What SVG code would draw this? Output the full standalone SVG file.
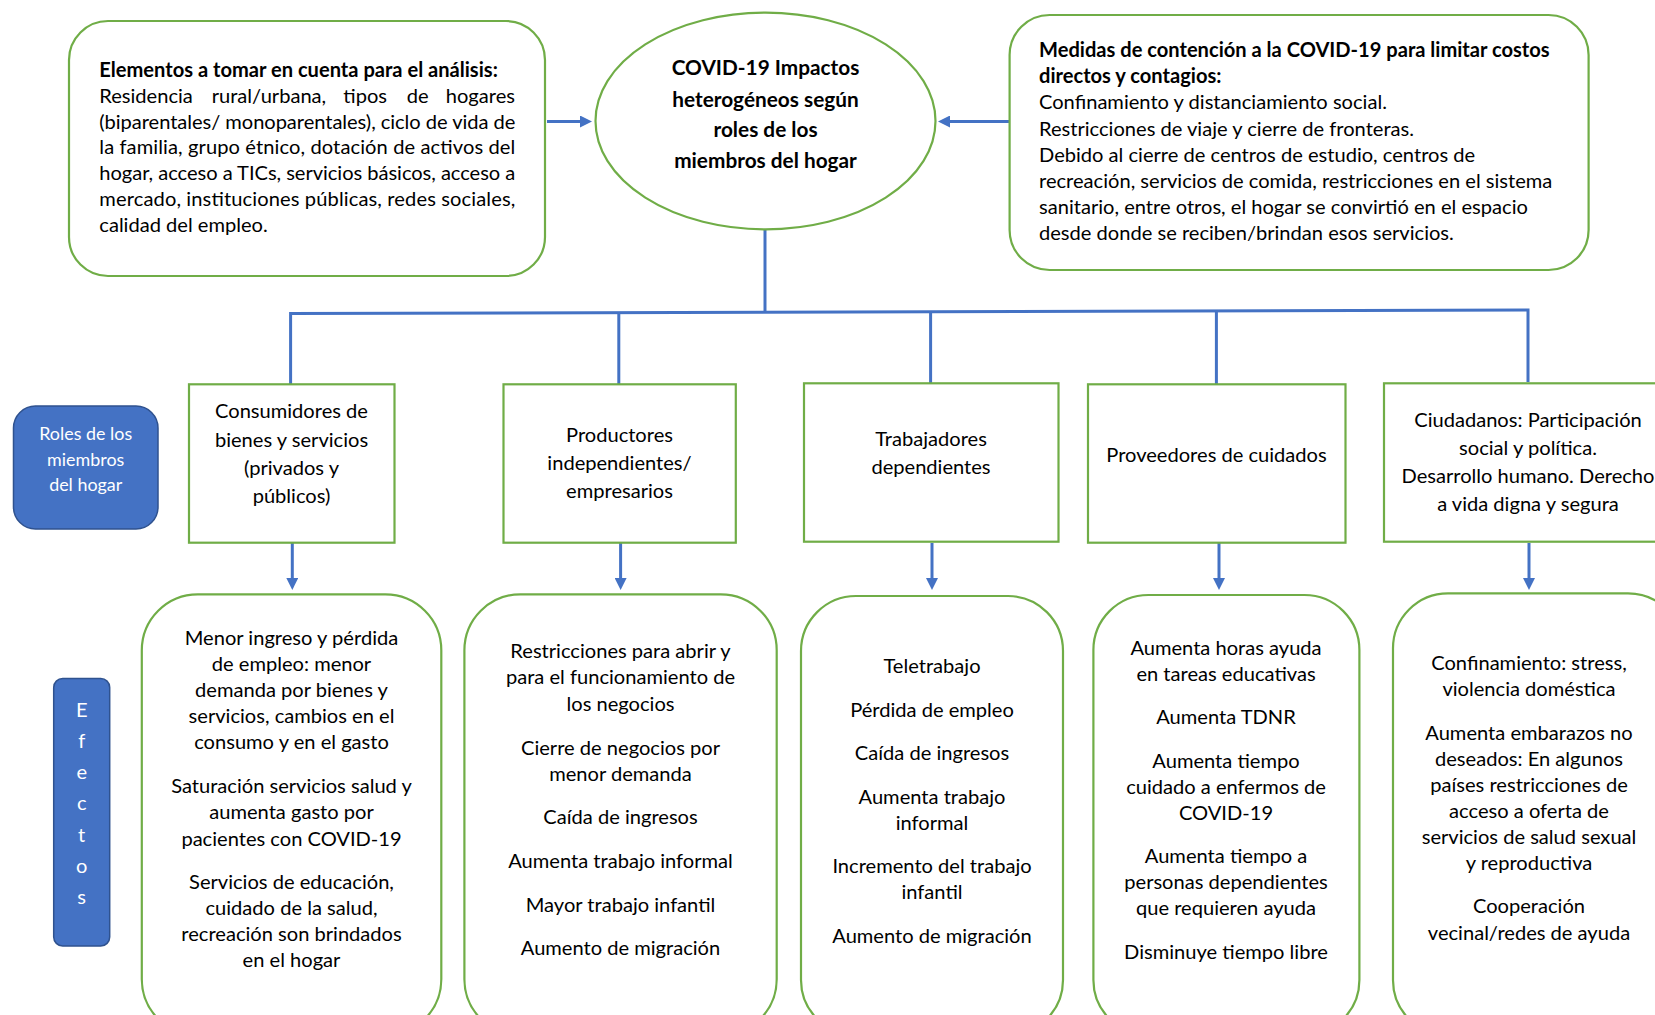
<svg xmlns="http://www.w3.org/2000/svg" width="1655" height="1015" viewBox="0 0 1655 1015">
<style>
.t{font-family:Lato,"Liberation Sans",sans-serif;font-size:20.1px;fill:#000}
.b{font-weight:bold}
.c{text-anchor:middle}
.e{text-anchor:end}
.w{fill:#fff}
.ti{font-size:20.8px}
.r{font-size:17.9px}
.box{fill:#fff;stroke:#70AD47;stroke-width:2.2}
.blue{fill:#4472C4;stroke:#2F528F;stroke-width:1.5}
.con{fill:none;stroke:#4472C4;stroke-width:3}
</style>
<defs>
<marker id="ah" viewBox="0 0 10 10" refX="5" refY="5" markerWidth="12" markerHeight="12" markerUnits="userSpaceOnUse" orient="auto">
<path d="M0,0 L10,5 L0,10 z" fill="#4472C4"/>
</marker>
</defs>
<rect width="1655" height="1015" fill="#fff"/>

<g id="connectors">
<line class="con" x1="547" y1="121.5" x2="586" y2="121.5" marker-end="url(#ah)"/>
<line class="con" x1="1013" y1="121.5" x2="944" y2="121.5" marker-end="url(#ah)"/>
<line class="con" x1="765" y1="230" x2="765" y2="312"/>
<polyline class="con" points="290.6,384 290.6,313.5 1528,310 1528,382"/>
<line class="con" x1="618.8" y1="313" x2="618.8" y2="384"/>
<line class="con" x1="930.6" y1="312" x2="930.6" y2="383"/>
<line class="con" x1="1216.4" y1="311" x2="1216.4" y2="384"/>
<line class="con" x1="292.3" y1="543" x2="292.3" y2="584" marker-end="url(#ah)"/>
<line class="con" x1="620.6" y1="543" x2="620.6" y2="584" marker-end="url(#ah)"/>
<line class="con" x1="932" y1="543" x2="932" y2="584" marker-end="url(#ah)"/>
<line class="con" x1="1219" y1="543" x2="1219" y2="584" marker-end="url(#ah)"/>
<line class="con" x1="1529" y1="543" x2="1529" y2="584" marker-end="url(#ah)"/>
</g>

<g id="elementos">
<rect class="box" x="69" y="21" width="476" height="255" rx="39"/>
<text class="t b" x="99.3" y="77">Elementos a tomar en cuenta para el análisis:</text>
<text class="t" y="102.8"><tspan x="99.3">Residencia</tspan><tspan x="211.7">rural/urbana,</tspan><tspan x="343.3">tipos</tspan><tspan x="406.7">de</tspan></text>
<text class="t e" x="515" y="102.8">hogares</text>
<text class="t" x="99.3" y="128.6" textLength="416" lengthAdjust="spacing">(biparentales/ monoparentales), ciclo de vida de</text>
<text class="t" x="99.3" y="154.4" textLength="416" lengthAdjust="spacing">la familia, grupo étnico, dotación de activos del</text>
<text class="t" x="99.3" y="180.2" textLength="416" lengthAdjust="spacing">hogar, acceso a TICs, servicios básicos, acceso a</text>
<text class="t" x="99.3" y="206" textLength="416" lengthAdjust="spacing">mercado, instituciones públicas, redes sociales,</text>
<text class="t" x="99.3" y="231.8">calidad del empleo.</text>
</g>

<g id="covid">
<ellipse class="box" cx="765.5" cy="121" rx="170" ry="108.3"/>
<text class="t b c ti" x="765.5" y="75">COVID-19 Impactos</text>
<text class="t b c ti" x="765.5" y="106.5">heterogéneos según</text>
<text class="t b c ti" x="765.5" y="137.3">roles de los</text>
<text class="t b c ti" x="765.5" y="168">miembros del hogar</text>
</g>

<g id="medidas">
<rect class="box" x="1009.6" y="15" width="579" height="255" rx="40"/>
<text class="t b" x="1039" y="57">Medidas de contención a la COVID-19 para limitar costos</text>
<text class="t b" x="1039" y="83.2">directos y contagios:</text>
<text class="t" x="1039" y="109.4">Confinamiento y distanciamiento social.</text>
<text class="t" x="1039" y="135.6">Restricciones de viaje y cierre de fronteras.</text>
<text class="t" x="1039" y="161.8">Debido al cierre de centros de estudio, centros de</text>
<text class="t" x="1039" y="188">recreación, servicios de comida, restricciones en el sistema</text>
<text class="t" x="1039" y="214.2">sanitario, entre otros, el hogar se convirtió en el espacio</text>
<text class="t" x="1039" y="240.4">desde donde se reciben/brindan esos servicios.</text>
</g>

<g id="roles-label">
<rect class="blue" x="13.5" y="406" width="144.5" height="123" rx="22"/>
<text class="t c w r" x="85.7" y="440">Roles de los</text>
<text class="t c w r" x="85.7" y="466">miembros</text>
<text class="t c w r" x="85.7" y="491">del hogar</text>
</g>

<g id="efectos-label">
<rect class="blue" x="53.7" y="678.5" width="56" height="267.5" rx="9"/>
<text class="t c w" x="81.7" y="717">E</text>
<text class="t c w" x="81.7" y="748">f</text>
<text class="t c w" x="81.7" y="779">e</text>
<text class="t c w" x="81.7" y="810">c</text>
<text class="t c w" x="81.7" y="841.5">t</text>
<text class="t c w" x="81.7" y="872.5">o</text>
<text class="t c w" x="81.7" y="903.5">s</text>
</g>

<g id="rol-consumidores">
<rect class="box" x="189" y="384.3" width="205.5" height="158.4"/>
<text class="t c" x="291.5" y="418.3">Consumidores de</text>
<text class="t c" x="291.5" y="446.7">bienes y servicios</text>
<text class="t c" x="291.5" y="475">(privados y</text>
<text class="t c" x="291.5" y="503.3">públicos)</text>
</g>

<g id="rol-productores">
<rect class="box" x="503.5" y="384.3" width="232.3" height="158.4"/>
<text class="t c" x="619.5" y="441.7">Productores</text>
<text class="t c" x="619.5" y="470">independientes/</text>
<text class="t c" x="619.5" y="498.3">empresarios</text>
</g>

<g id="rol-trabajadores">
<rect class="box" x="804" y="383.3" width="254.5" height="158.4"/>
<text class="t c" x="931" y="445.7">Trabajadores</text>
<text class="t c" x="931" y="474.3">dependientes</text>
</g>

<g id="rol-proveedores">
<rect class="box" x="1088" y="384.3" width="257.5" height="158.4"/>
<text class="t c" x="1216.5" y="461.7">Proveedores de cuidados</text>
</g>

<g id="rol-ciudadanos">
<rect class="box" x="1384" y="383.3" width="288" height="158.4"/>
<text class="t c" x="1528" y="426.7">Ciudadanos: Participación</text>
<text class="t c" x="1528" y="455">social y política.</text>
<text class="t c" x="1528" y="483.3">Desarrollo humano. Derecho</text>
<text class="t c" x="1528" y="511">a vida digna y segura</text>
</g>

<g id="efecto-consumidores">
<rect class="box" x="141.8" y="594.3" width="299.5" height="441" rx="56"/>
<text class="t c" x="291.5" y="645">Menor ingreso y pérdida</text>
<text class="t c" x="291.5" y="671">de empleo: menor</text>
<text class="t c" x="291.5" y="697">demanda por bienes y</text>
<text class="t c" x="291.5" y="723">servicios, cambios en el</text>
<text class="t c" x="291.5" y="749">consumo y en el gasto</text>
<text class="t c" x="291.5" y="793">Saturación servicios salud y</text>
<text class="t c" x="291.5" y="819">aumenta gasto por</text>
<text class="t c" x="291.5" y="845.5">pacientes con COVID-19</text>
<text class="t c" x="291.5" y="888.5">Servicios de educación,</text>
<text class="t c" x="291.5" y="914.5">cuidado de la salud,</text>
<text class="t c" x="291.5" y="940.5">recreación son brindados</text>
<text class="t c" x="291.5" y="966.5">en el hogar</text>
</g>

<g id="efecto-productores">
<rect class="box" x="464.4" y="594.3" width="312.3" height="441" rx="56"/>
<text class="t c" x="620.5" y="658">Restricciones para abrir y</text>
<text class="t c" x="620.5" y="684.3">para el funcionamiento de</text>
<text class="t c" x="620.5" y="710.6">los negocios</text>
<text class="t c" x="620.5" y="755">Cierre de negocios por</text>
<text class="t c" x="620.5" y="781">menor demanda</text>
<text class="t c" x="620.5" y="824.3">Caída de ingresos</text>
<text class="t c" x="620.5" y="867.5">Aumenta trabajo informal</text>
<text class="t c" x="620.5" y="911.5">Mayor trabajo infantil</text>
<text class="t c" x="620.5" y="955">Aumento de migración</text>
</g>

<g id="efecto-trabajadores">
<rect class="box" x="801" y="596" width="262" height="439" rx="55"/>
<text class="t c" x="932" y="673.3">Teletrabajo</text>
<text class="t c" x="932" y="716.7">Pérdida de empleo</text>
<text class="t c" x="932" y="760">Caída de ingresos</text>
<text class="t c" x="932" y="804">Aumenta trabajo</text>
<text class="t c" x="932" y="830">informal</text>
<text class="t c" x="932" y="873.3">Incremento del trabajo</text>
<text class="t c" x="932" y="899.3">infantil</text>
<text class="t c" x="932" y="943.3">Aumento de migración</text>
</g>

<g id="efecto-proveedores">
<rect class="box" x="1093.4" y="595" width="266" height="440" rx="55"/>
<text class="t c" x="1226" y="655">Aumenta horas ayuda</text>
<text class="t c" x="1226" y="681">en tareas educativas</text>
<text class="t c" x="1226" y="724">Aumenta TDNR</text>
<text class="t c" x="1226" y="767.7">Aumenta tiempo</text>
<text class="t c" x="1226" y="794">cuidado a enfermos de</text>
<text class="t c" x="1226" y="820">COVID-19</text>
<text class="t c" x="1226" y="863.3">Aumenta tiempo a</text>
<text class="t c" x="1226" y="889.3">personas dependientes</text>
<text class="t c" x="1226" y="915">que requieren ayuda</text>
<text class="t c" x="1226" y="959.3">Disminuye tiempo libre</text>
</g>

<g id="efecto-ciudadanos">
<rect class="box" x="1393" y="593.3" width="290" height="442" rx="55"/>
<text class="t c" x="1529" y="670">Confinamiento: stress,</text>
<text class="t c" x="1529" y="696">violencia doméstica</text>
<text class="t c" x="1529" y="740">Aumenta embarazos no</text>
<text class="t c" x="1529" y="766">deseados: En algunos</text>
<text class="t c" x="1529" y="792.3">países restricciones de</text>
<text class="t c" x="1529" y="818.3">acceso a oferta de</text>
<text class="t c" x="1529" y="844.3">servicios de salud sexual</text>
<text class="t c" x="1529" y="870">y reproductiva</text>
<text class="t c" x="1529" y="913.3">Cooperación</text>
<text class="t c" x="1529" y="940">vecinal/redes de ayuda</text>
</g>
</svg>
